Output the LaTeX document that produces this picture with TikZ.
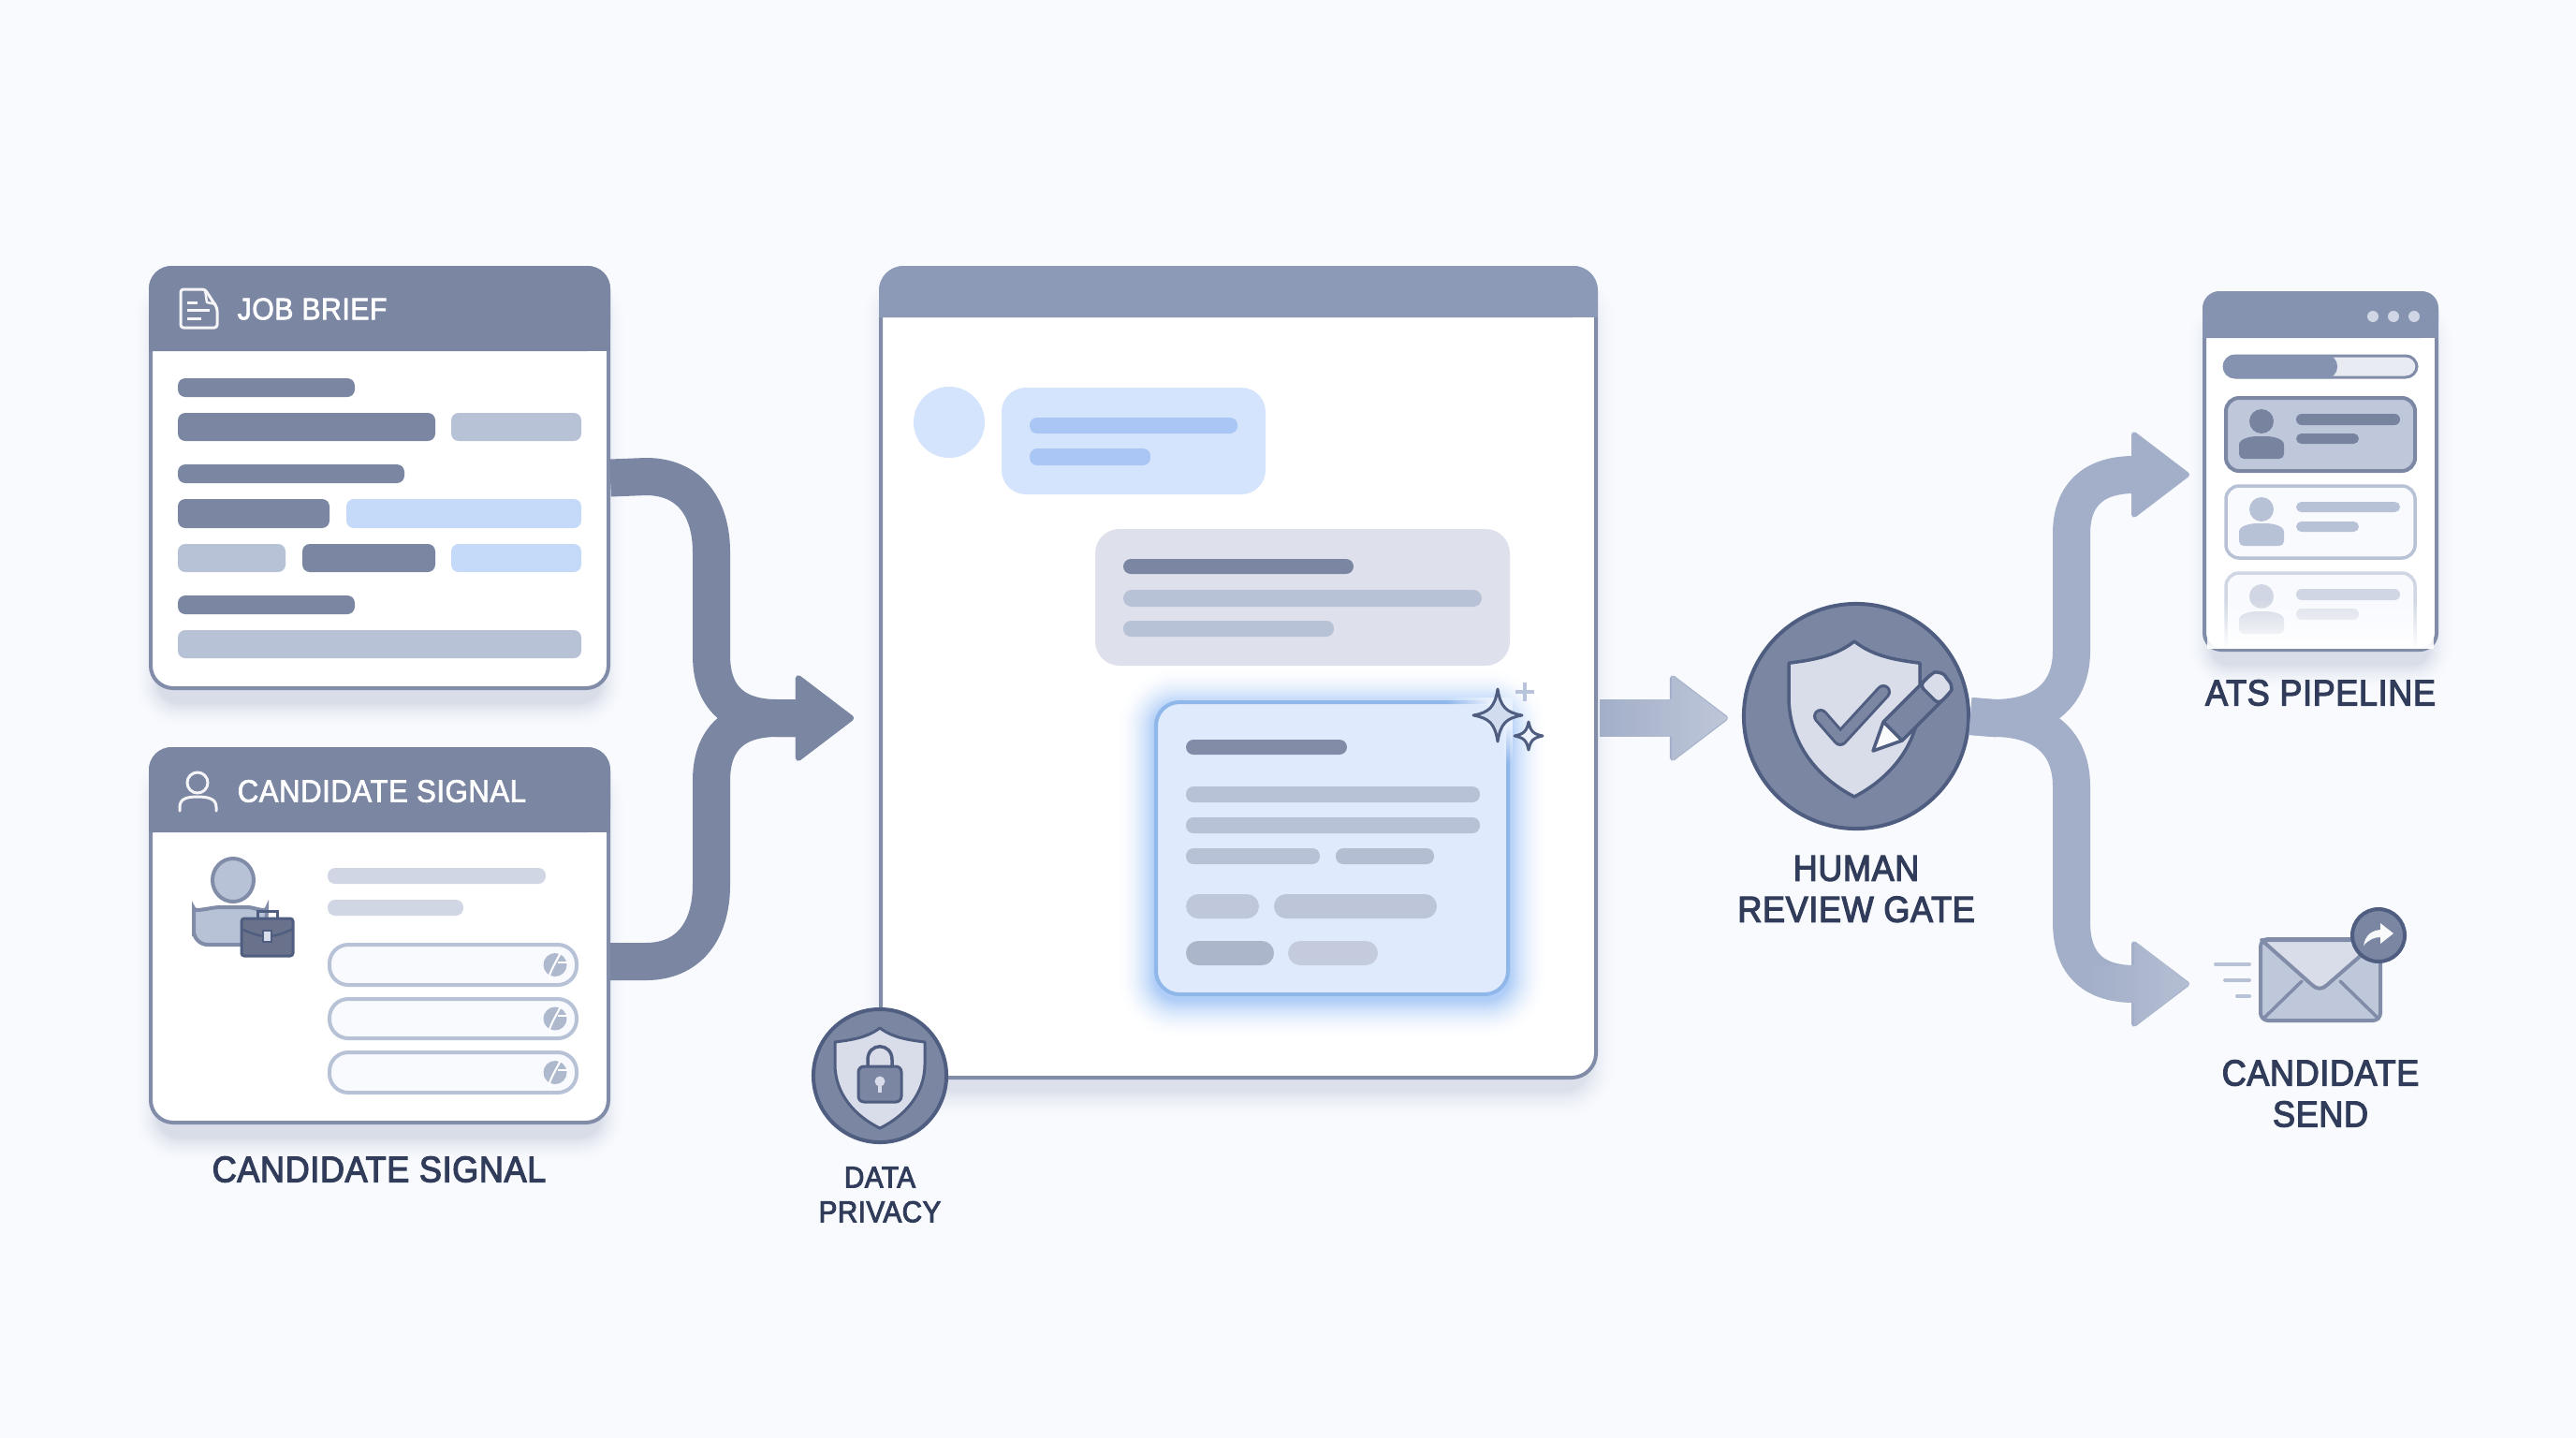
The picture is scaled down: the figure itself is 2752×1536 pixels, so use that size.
\documentclass[tikz,border=0pt]{standalone}
\usepackage{fontspec}
\setmainfont{Liberation Sans}
\newfontfamily\labfont[FakeStretch=0.925,FakeBold=3,LetterSpace=1.5]{Liberation Sans}
\newfontfamily\headfont[FakeStretch=0.925,FakeBold=2,LetterSpace=1.5]{Liberation Sans}
\usetikzlibrary{arrows.meta,fadings}
\definecolor{pagebg}{HTML}{F8FAFE}
\definecolor{slate}{HTML}{7B86A2}
\definecolor{slateb}{HTML}{8592B0}
\definecolor{slatec}{HTML}{8C99B7}
\definecolor{slatedk}{HTML}{4F5D80}
\definecolor{edge}{HTML}{818CA8}
\definecolor{soft}{HTML}{B8C2D6}
\definecolor{softer}{HTML}{D0D6E3}
\definecolor{skyb}{HTML}{C4DAF8}
\definecolor{sky}{HTML}{D4E4FC}
\definecolor{skyd}{HTML}{A9C6F4}
\definecolor{skyfill}{HTML}{DFEBFD}
\definecolor{skyedge}{HTML}{90B7EA}
\definecolor{skyglow}{HTML}{7FB0F2}
\definecolor{ink}{HTML}{303C59}
\definecolor{branch}{HTML}{A3AFC9}
\definecolor{shadowc}{HTML}{5C6A8C}
\definecolor{paper}{HTML}{D9DDE9}
\tikzset{
  x=0.01cm,y=-0.01cm,
  lab/.style={font=\labfont\fontsize{11.1}{12.5}\selectfont,text=ink,align=center,inner sep=0pt},
  smalllab/.style={font=\labfont\fontsize{9.1}{10.5}\selectfont,text=ink,align=center,inner sep=0pt},
  headlab/.style={font=\headfont\fontsize{9.3}{11}\selectfont,text=white,anchor=west,inner sep=0pt},
  headlabb/.style={font=\headfont\fontsize{9.6}{11}\selectfont,text=white,anchor=west,inner sep=0pt},
  flowdark/.style={draw=slate,line width=0.4cm,line join=round},
  flowlight/.style={draw=branch,line width=0.4cm,line join=round},
  headtip/.style={-{Triangle[length=0.64cm,width=0.96cm,line width=0.06cm,round]}},
  badge/.style={circle,draw=slatedk,fill=slate,line width=0.04cm,inner sep=0pt},
  iconline/.style={draw=slatedk,line width=0.03cm,line join=round,line cap=round},
}
% rounded bar: x1 y1 x2 y2 colour radius
\newcommand{\rb}[6]{\fill[#5,rounded corners={#6*0.01cm}] (#1,#2) rectangle (#3,#4);}
% soft shadow as opaque stack on \shbase: x1 y1 x2 y2 radius yoffset spread colour peak%
\newcommand{\softsh}[9]{\foreach \k in {#7,...,0}{%
  \pgfmathsetmacro{\pct}{#9*(1-\k/#7)^2}
  \fill[#8!\pct!\shbase,rounded corners={(#5+\k)*0.01cm}]
   ({#1-\k},{#2+#6-\k}) rectangle ({#3+\k},{#4+#6+\k});}}
% card: name x1 y1 x2 y2 yheader radius headcolour
\newcommand{\card}[8]{%
  \node[draw=edge,fill=white,line width=0.04cm,rounded corners={#7*0.01cm},inner sep=0pt,
    minimum width={(#4-#2-4)*0.01cm},minimum height={(#5-#3-4)*0.01cm}]
    (#1) at ({(#2+#4)/2},{(#3+#5)/2}) {};
  \fill[#8,rounded corners={#7*0.01cm}] (#2,#6) -- (#2,#3) -- (#4,#3) -- (#4,#6) [sharp corners] -- cycle;
  \fill[#8] (#2,{#6-#7}) rectangle (#4,#6);}
\newcommand{\shieldp}{(0,0) .. controls (0.3,0.1) and (0.65,0.12) .. (1,0.14) -- (1,0.36)
  .. controls (1,0.66) and (0.55,0.88) .. (0,1) .. controls (-0.55,0.88) and (-1,0.66) .. (-1,0.36)
  -- (-1,0.14) .. controls (-0.65,0.12) and (-0.3,0.1) .. (0,0) -- cycle}
\newcommand{\pie}[2]{%
  \fill[soft!85!slate] (#1,#2) circle (12.5);
  \draw[white,line width=0.02cm] (#1,#2) +(6,-13) .. controls +(-4,8) and +(-10,6) .. +(-3,14);
  \draw[white,line width=0.02cm] (#1,#2) +(3,-3) -- +(13,-3);}
\newcommand{\person}[6]{% cx headcy headr bodytop bodybottom colour
  \fill[#6] (#1,#2) circle (#3);
  \fill[#6,rounded corners=0.05cm] ({#1-24},#5) -- ({#1-24},{(#4+#5)/2+2}) .. controls ({#1-24},{#4+2}) and ({#1-10},#4) .. (#1,#4)
    .. controls ({#1+10},#4) and ({#1+24},{#4+2}) .. ({#1+24},{(#4+#5)/2+2}) -- ({#1+24},#5) -- cycle;}
\begin{document}
\begin{tikzpicture}
\useasboundingbox (0,0) rectangle (2752,1536);
\fill[pagebg] (0,0) rectangle (2752,1536);
% ---- shadows
\def\shbase{pagebg}
\softsh{169}{304}{642}{737}{22}{14}{28}{shadowc}{20}
\softsh{169}{818}{642}{1201}{22}{14}{28}{shadowc}{20}
\softsh{949}{304}{1697}{1153}{26}{12}{32}{shadowc}{18}
\softsh{2363}{331}{2595}{696}{18}{14}{28}{shadowc}{20}
% ---- job brief card
\card{job}{159}{284}{652}{737}{375}{24}{slate}
\node[headlab] (jobt) at (253,330) {JOB BRIEF};
\draw[white!92!slate,line width=0.03cm,line join=round,rounded corners=0.03cm] (193,309) -- (219,309) -- (232,329) -- (232,350) -- (193,350) -- cycle;
\draw[white!92!slate,line width=0.025cm,line join=round] (219,309) -- (221,323) -- (231,325);
\draw[white!92!slate,line width=0.03cm] (200,323) -- (211,323) (200,331) -- (224,331) (200,340) -- (215,340);
\rb{190}{404}{379}{424}{slate}{8}
\rb{190}{441}{465}{471}{slate}{8}
\rb{482}{441}{621}{471}{soft}{8}
\rb{190}{496}{432}{516}{slate}{8}
\rb{190}{533}{352}{564}{slate}{8}
\rb{370}{533}{621}{564}{skyb}{8}
\rb{190}{581}{305}{611}{soft}{8}
\rb{323}{581}{465}{611}{slate}{8}
\rb{482}{581}{621}{611}{skyb}{8}
\rb{190}{636}{379}{656}{slate}{8}
\rb{190}{673}{621}{703}{soft}{8}
% ---- candidate card
\card{cand}{159}{798}{652}{1201}{889}{24}{slate}
\node[headlabb] (candt) at (253,845) {CANDIDATE SIGNAL};
\draw[white!92!slate,line width=0.03cm] (211,836) circle (11);
\draw[white!92!slate,line width=0.03cm,line cap=round] (192,866) -- (192,862) .. controls (192,853) and (200,851) .. (211,851) .. controls (222,851) and (231,853) .. (231,862) -- (231,866);
\draw[edge,fill=soft,line width=0.04cm] (249,940) ellipse (22 and 23);
\draw[edge,fill=soft,line width=0.04cm,rounded corners=0.15cm] (280,1009) -- (207,1009) -- (207,985) .. controls (207,975) and (225,969) .. (250,969) .. controls (270,969) and (285,975) .. (285,985) -- cycle;
\draw[slatedk,line width=0.03cm] (275,981) -- (275,973) -- (296,973) -- (296,981);
\draw[slatedk,fill=slate!85!black,line width=0.03cm,rounded corners=0.03cm] (258,981) rectangle (313,1021);
\draw[slatedk,line width=0.025cm] (258,992) .. controls (270,998) and (278,1000) .. (285,1000) .. controls (293,1000) and (301,998) .. (313,992);
\draw[slatedk,fill=paper,line width=0.02cm] (281,994) rectangle (290,1006);
\rb{350}{927}{583}{944}{softer}{8}
\rb{350}{961}{495}{978}{softer}{8}
\foreach \yy/\yb in {1009/1052,1067/1109,1124/1167}{
  \draw[soft,fill=pagebg,line width=0.04cm,rounded corners=0.2cm] (352,\yy) rectangle (616,\yb);
  \pie{593}{{(\yy+\yb)/2}}
}
\node[lab] (candl) at (405,1249) {CANDIDATE SIGNAL};
% ---- left connectors
\coordinate (candout) at (652,1027);
\coordinate (winin) at (912,767);
\draw[flowdark,headtip] (job.east) -- (690,509) .. controls (735,509) and (760,540) .. (760,590) -- (760,700) .. controls (760,745) and (785,767) .. (830,767) -- (winin);
\draw[flowdark,headtip] (candout) -- (690,1027) .. controls (735,1027) and (760,995) .. (760,945) -- (760,834) .. controls (760,789) and (785,767) .. (830,767) -- (winin);
% ---- centre window
\card{win}{939}{284}{1707}{1153}{339}{26}{slatec}
\fill[sky] (1014,451) circle (38);
\rb{1070}{414}{1352}{528}{sky}{26}
\rb{1100}{446}{1322}{463}{skyd}{8}
\rb{1100}{479}{1229}{497}{skyd}{8}
\def\shbase{white}
\softsh{1233}{748}{1613}{1064}{25}{5}{42}{skyglow}{62}
\rb{1170}{565}{1613}{711}{paper!88!white}{26}
\rb{1200}{597}{1446}{613}{slate}{8}
\rb{1200}{630}{1583}{648}{soft}{9}
\rb{1200}{663}{1425}{680}{soft}{8}
\draw[skyedge,fill=skyfill,line width=0.04cm,rounded corners=0.25cm] (1235,750) rectangle (1611,1062);
\fill[skyfill!70!white] (1590,745) rectangle (1616,775);
\fill[skyfill!70!white,path fading=west] (1545,745) rectangle (1592,753);
\fill[skyfill!70!white,path fading=south] (1607,775) rectangle (1616,815);
\rb{1267}{790}{1439}{806}{slate!95!white}{8}
\rb{1267}{840}{1581}{857}{soft}{8}
\rb{1267}{873}{1581}{890}{soft}{8}
\rb{1267}{906}{1410}{923}{soft}{8}
\rb{1427}{906}{1532}{923}{soft!93!slate}{8}
\rb{1267}{955}{1345}{981}{soft!90!white}{13}
\rb{1361}{955}{1535}{981}{soft!93!white}{13}
\rb{1267}{1005}{1361}{1031}{soft!80!slate}{13}
\rb{1376}{1005}{1472}{1031}{soft!85!white}{13}
\draw[slatedk,fill=paper!60!skyb,line width=0.03cm,line join=round] (1600,736) .. controls (1603,755) and (1609,761) .. (1626,764) .. controls (1609,767) and (1603,773) .. (1600,792) .. controls (1597,773) and (1591,767) .. (1574,764) .. controls (1591,761) and (1597,755) .. (1600,736) -- cycle;
\draw[slatedk,fill=white!70!skyb,line width=0.03cm,line join=round] (1633,771) .. controls (1635,781) and (1638,784) .. (1648,786) .. controls (1638,788) and (1635,791) .. (1633,801) .. controls (1631,791) and (1628,788) .. (1618,786) .. controls (1628,784) and (1631,781) .. (1633,771) -- cycle;
\draw[soft!85!skyd,line width=0.035cm] (1629,729) -- (1629,749) (1619,739) -- (1639,739);
% ---- privacy badge
\node[badge,minimum size=1.42cm] (priv) at (940,1149) {};
\draw[iconline,fill=paper,shift={(940,1098)},xscale=48,yscale=107] \shieldp;
\draw[slatedk,line width=0.035cm] (927,1140) -- (927,1132) .. controls (927,1113) and (953,1113) .. (953,1132) -- (953,1140);
\draw[slatedk,fill=slate,line width=0.03cm,rounded corners=0.06cm] (917,1139) rectangle (963,1177);
\fill[paper] (940,1155) circle (5.5);
\draw[paper,line width=0.04cm] (940,1155) -- (940,1167);
\node[smalllab] (privl) at (940,1276) {DATA\\PRIVACY};
% ---- review gate
\coordinate (gatein) at (1846,767);
\coordinate (winout) at (1709,767);
\draw[flowlight,headtip] (winout) -- (gatein);
\fill[white,opacity=0.3,path fading=west] (1709,747) -- (1786,747) -- (1786,721) -- (1846,767) -- (1786,813) -- (1786,787) -- (1709,787) -- cycle;
\node[badge,minimum size=2.40cm] (gate) at (1983,765) {};
\draw[slatedk,line width=0.035cm,fill=paper,line join=round,shift={(1981,685)},xscale=70,yscale=166] \shieldp;
\draw[slatedk,line width=0.16cm,line cap=round,line join=round] (1945,765) -- (1966,789) -- (2012,739);
\draw[slate,line width=0.10cm,line cap=round,line join=round] (1945,765) -- (1966,789) -- (2012,739);
\draw[slatedk,fill=slate,line width=0.035cm,line join=round] (2032,791) -- (2012,771) -- (2062,721) -- (2082,741) -- cycle;
\draw[slatedk,fill=white!85!paper,line width=0.035cm,line join=round] (2001,802) -- (2012,771) -- (2032,791) -- cycle;
\draw[slatedk,fill=paper,line width=0.035cm,line join=round,rounded corners=0.05cm] (2051,732) -- (2062,721) .. controls (2068,717) and (2076,719) .. (2080,725) .. controls (2085,731) and (2085,737) .. (2082,741) -- (2071,752) -- cycle;
\node[lab] (gatel) at (1983,949.5) {HUMAN\\REVIEW GATE};
% ---- right connectors
\coordinate (atsin) at (2339,507);
\coordinate (sendin) at (2339,1051);
\draw[flowlight,headtip] (gate.east) -- (2130,767) .. controls (2185,767) and (2213,740) .. (2213,695) -- (2213,570) .. controls (2213,530) and (2235,507) .. (2280,507) -- (atsin);
\draw[flowlight,headtip] (gate.east) -- (2130,767) .. controls (2185,767) and (2213,795) .. (2213,840) -- (2213,985) .. controls (2213,1028) and (2235,1051) .. (2280,1051) -- (sendin);
\fill[white,opacity=0.2,path fading=west] (2230,1031) -- (2280,1031) -- (2280,1004) -- (2339,1051) -- (2280,1097) -- (2280,1071) -- (2230,1071) -- cycle;
% ---- ATS card
\card{ats}{2353}{311}{2605}{696}{361}{18}{slateb}
\foreach \dx in {2535,2557,2579}{\fill[softer] (\dx,338) circle (6);}
\draw[edge,fill=paper!60!white,line width=0.03cm,rounded corners=0.12cm] (2376,380) rectangle (2582,403);
\fill[slateb,rounded corners=0.12cm] (2375,379) rectangle (2497,404);
\draw[edge!90!slatedk,fill=soft!90!white,line width=0.04cm,rounded corners=0.14cm] (2378,425) rectangle (2580,503);
\person{2416}{450}{13}{466}{490}{slate!92!slatedk}
\rb{2453}{442}{2564}{454}{slate!92!slatedk}{6}
\rb{2453}{463}{2520}{474}{slate!92!slatedk}{5.5}
\draw[soft,fill=pagebg,line width=0.035cm,rounded corners=0.14cm] (2378,519) rectangle (2580,596);
\person{2416}{544}{13}{559}{583}{soft}
\rb{2453}{536}{2564}{547}{soft}{5.5}
\rb{2453}{557}{2520}{568}{soft}{5.5}
\fill[pagebg,rounded corners=0.14cm] (2378,612) -- (2378,692) -- (2580,692) -- (2580,612) -- cycle;
\draw[softer,line width=0.035cm,rounded corners=0.14cm] (2378,692) -- (2378,612) -- (2580,612) -- (2580,692);
\person{2416}{637}{13}{653}{677}{softer}
\rb{2453}{629}{2564}{641}{softer}{6}
\rb{2453}{650}{2520}{662}{softer!75!white}{6}
\fill[white,path fading=north] (2358,640) rectangle (2600,693);
\node[lab] (atsl) at (2479,740) {ATS PIPELINE};
% ---- candidate send
\foreach \xa/\yy in {2367/1030,2377/1047,2390/1064}{\draw[soft,line width=0.04cm,line cap=round] (\xa,\yy) -- (2403,\yy);}
\draw[edge,fill=soft!90!white,line width=0.04cm,rounded corners=0.08cm] (2415,1003) rectangle (2543,1090);
\draw[edge,fill=paper,line width=0.04cm,line join=round] (2416,1004) -- (2470,1052) .. controls (2475,1057) and (2481,1057) .. (2486,1052) -- (2532,1012) -- (2532,1004) -- cycle;
\draw[edge,line width=0.035cm,line cap=round] (2418,1088) -- (2459,1048) (2500,1048) -- (2541,1088);
\node[badge,minimum size=0.56cm] (sendb) at (2541,999) {};
\fill[white!95!slate] (2525,1010) .. controls (2527,999) and (2533,994) .. (2543,993) -- (2543,986) -- (2557,997) -- (2543,1008) -- (2543,1001) .. controls (2536,1001) and (2530,1004) .. (2525,1010) -- cycle;
\node[lab] (sendl) at (2479,1168) {CANDIDATE\\SEND};
\end{tikzpicture}
\end{document}
